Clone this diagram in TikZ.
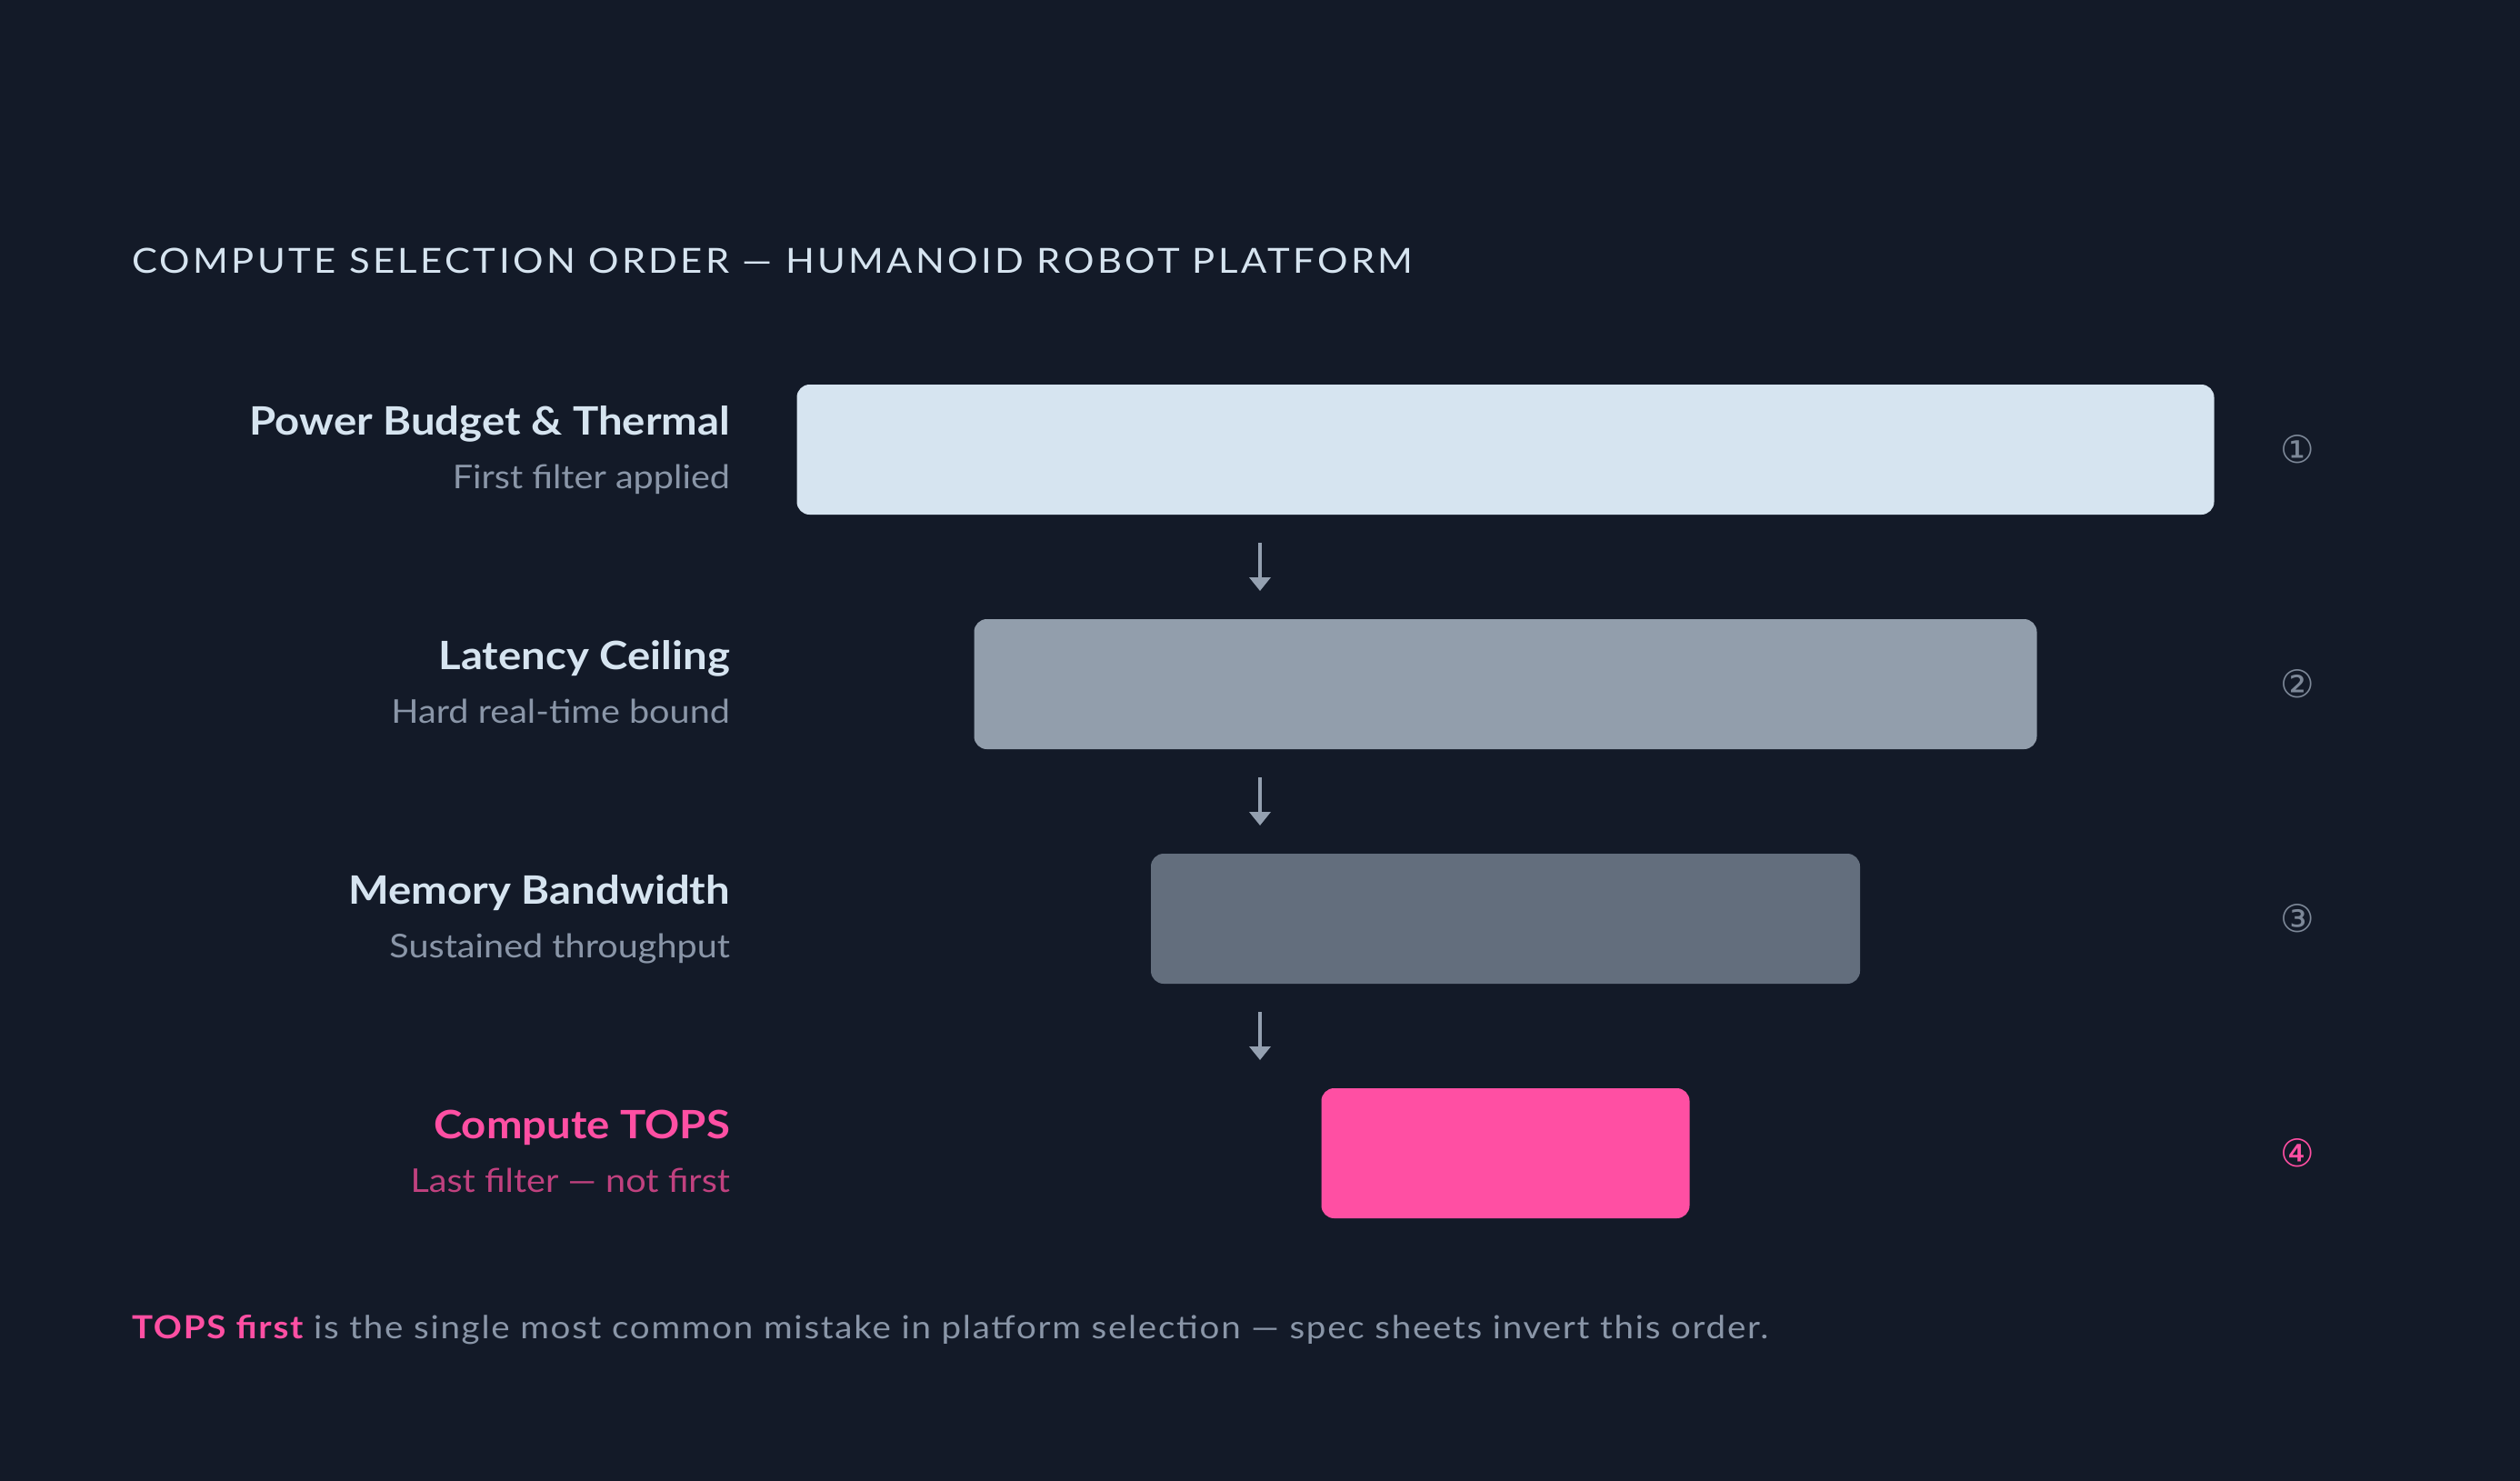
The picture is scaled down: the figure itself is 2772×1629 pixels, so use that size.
\documentclass[tikz,border=0pt]{standalone}
\usepackage{fontspec}
\setmainfont{Lato}[FakeStretch=1.1]
\newfontfamily\symfont{DejaVu Sans}
\newfontfamily\headfont{Lato}[FakeStretch=1.1, LetterSpace=9]
\newfontfamily\footfont{Lato}[FakeStretch=1.1, LetterSpace=5]
\usetikzlibrary{positioning,arrows.meta,calc}

\definecolor{bgc}{HTML}{131A28}
\definecolor{lightc}{HTML}{D6E4F0}
\definecolor{grayc}{HTML}{8A96A8}
\definecolor{numc}{HTML}{7D8898}
\definecolor{arrowc}{HTML}{94A0B0}
\definecolor{bartwo}{HTML}{929EAC}
\definecolor{barthree}{HTML}{636E7D}
\definecolor{pinkc}{HTML}{FF4FA3}
\definecolor{pinkdim}{HTML}{C0417F}

\begin{document}
\begin{tikzpicture}[x=1pt, y=-1pt, every node/.style={inner sep=0pt, outer sep=0pt}, >={Triangle[width=23pt,length=15pt]}]
    % styles
    \tikzstyle{bar} = [rectangle, rounded corners=14pt, minimum height=143pt]
    \tikzstyle{stage} = [anchor=base east, text=lightc, font=\fontsize{43}{50}\selectfont\bfseries]
    \tikzstyle{hint} = [anchor=base east, text=grayc, font=\fontsize{36}{43}\selectfont]
    \tikzstyle{idx} = [text=numc, font=\symfont\fontsize{42}{48}\selectfont]
    \tikzstyle{arrow} = [line width=4pt, draw=arrowc, ->]

    \fill[bgc] (0,0) rectangle (2772,1629);
    \useasboundingbox (0,0) rectangle (2772,1629);

    % header
    \node[anchor=base west, text=lightc, font=\headfont\fontsize{38}{44}\selectfont] (head) at (145,300) {COMPUTE SELECTION ORDER — HUMANOID ROBOT PLATFORM};

    % bars
    \node[bar, fill=lightc, minimum width=1559pt] (bar1) at (1656,494.5) {};
    \node[bar, fill=bartwo, minimum width=1169pt, below=115pt of bar1] (bar2) {};
    \node[bar, fill=barthree, minimum width=780pt, below=115pt of bar2] (bar3) {};
    \node[bar, fill=pinkc, minimum width=405pt, below=115pt of bar3] (bar4) {};

    % labels
    \node[stage] (t1) at (803,478) {Power Budget \& Thermal};
    \node[hint] (s1) at ([yshift=-59pt]t1.base east) {First filter applied};
    \node[stage] (t2) at (803,736) {Latency Ceiling};
    \node[hint] (s2) at ([yshift=-59pt]t2.base east) {Hard real-time bound};
    \node[stage] (t3) at (803,994) {Memory Bandwidth};
    \node[hint] (s3) at ([yshift=-59pt]t3.base east) {Sustained throughput};
    \node[stage, text=pinkc] (t4) at (803,1252) {Compute TOPS};
    \node[hint, text=pinkdim] (s4) at ([yshift=-59pt]t4.base east) {Last filter — not first};

    % step numbers
    \coordinate (numcol) at (2527,0);
    \node[idx] (n1) at (bar1 -| numcol) {①};
    \node[idx] (n2) at (bar2 -| numcol) {②};
    \node[idx] (n3) at (bar3 -| numcol) {③};
    \node[idx, text=pinkc] (n4) at (bar4 -| numcol) {④};

    % arrows
    \coordinate (axis) at (1386,0);
    \draw[arrow] ($(bar1.south -| axis)+(0,31)$) -- ($(bar2.north -| axis)+(0,-31)$);
    \draw[arrow] ($(bar2.south -| axis)+(0,31)$) -- ($(bar3.north -| axis)+(0,-31)$);
    \draw[arrow] ($(bar3.south -| axis)+(0,31)$) -- ($(bar4.north -| axis)+(0,-31)$);

    % footer
    \node[anchor=base west, text=grayc, font=\footfont\fontsize{35}{42}\selectfont] (foot) at (145,1472) {\textcolor{pinkc}{\bfseries TOPS first} is the single most common mistake in platform selection — spec sheets invert this order.};
\end{tikzpicture}
\end{document}
